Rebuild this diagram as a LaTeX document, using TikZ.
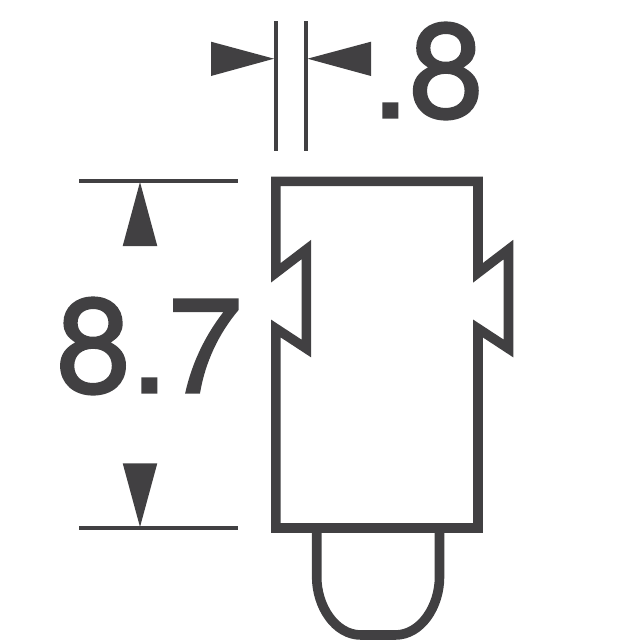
\documentclass[tikz,border=0pt]{standalone}
\usepackage{amsmath}
\usepackage{fontspec}
\setmainfont[FakeBold=1.6]{TeX Gyre Heros}
\definecolor{inkgray}{HTML}{414042}
\begin{document}
\begin{tikzpicture}[x=1pt,y=-1pt,
        outline/.style={draw=inkgray,line width=9.6pt,miter limit=10},
        thinline/.style={draw=inkgray,line width=4pt},
        wedge/.style={fill=inkgray,draw=none},
        dimtext/.style={text=inkgray,inner sep=0pt,anchor=base west,font=\fontsize{134}{134}\selectfont}]
            \useasboundingbox (0,0) rectangle (640,640);
            \draw[outline] (275.85,272.8) -- (275.85,181.3) -- (478,181.3) -- (478,272.8) -- (508.5,249.5) -- (508.5,348.5) -- (478,328.5) -- (478,528) -- (275.85,528) -- (275.85,328.5) -- (306.35,348.5) -- (306.35,249.5) -- cycle;
            \draw[outline] (316.7,528) -- (316.7,577) .. controls (316.7,606) and (335,635) .. (361,635) -- (395.2,635) .. controls (421.2,635) and (439.5,606) .. (439.5,577) -- (439.5,528);
            \draw[thinline] (275.7,21) -- (275.7,150.7);
            \draw[thinline] (306.3,21) -- (306.3,150.7);
            \draw[thinline] (79,181) -- (238.3,181);
            \draw[thinline] (79,528) -- (238.3,528);
            \fill[wedge] (211,41.7) -- (274,58.7) -- (211,76) -- cycle;
            \fill[wedge] (371,41.7) -- (307.5,58.7) -- (371,76) -- cycle;
            \fill[wedge] (122.7,246) -- (140,182) -- (157.3,246) -- cycle;
            \fill[wedge] (122.7,463.3) -- (140,527) -- (157.3,463.3) -- cycle;
            \node[dimtext] (width) at (371.5,117.5) {.8};
            \node[dimtext] (height) at (56,392.5) {8.7};
        \end{tikzpicture}
\end{document}
